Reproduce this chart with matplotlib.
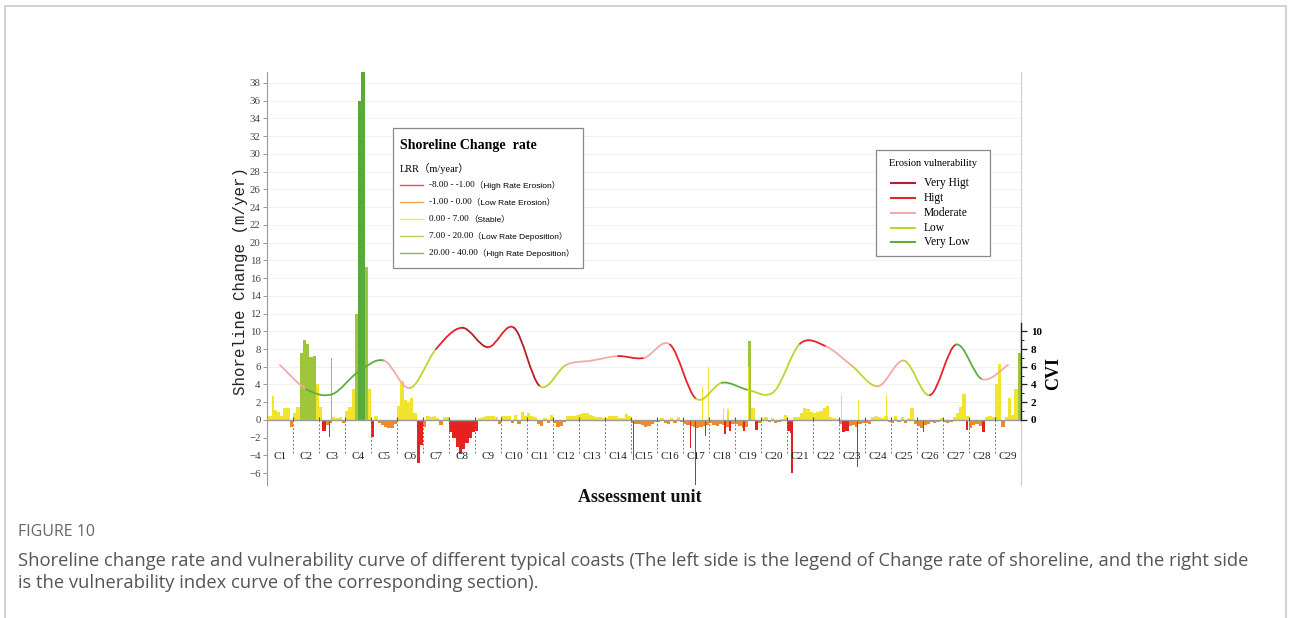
import numpy as np
import matplotlib
matplotlib.use("Agg")
import matplotlib.pyplot as plt
from matplotlib.path import Path
from matplotlib.patches import PathPatch, Rectangle
from matplotlib.lines import Line2D
from matplotlib.text import Annotation

W, H = 1290, 618
SERIF = "Liberation Serif"
plt.rcParams["font.family"] = SERIF

units = [f"C{i}" for i in range(1, 30)]
N_SUB = 8  # transect samples per assessment unit

# LRR (m/year), 8 samples per unit
lrr = [
    0.4, 0.5, 1.1, 0.9, 0.5, 1.4, 1.4, -0.8,          # C1
    0.8, 1.5, 7.5, 9.0, 8.6, 7.1, 7.2, 4.0,           # C2
    1.5, -1.2, -0.6, -0.3, 0.3, 0.2, 0.3, -0.3,       # C3
    1.0, 1.5, 3.5, 12.0, 36.0, 39.3, 17.2, 3.5,       # C4
    -1.9, 0.5, -0.3, -0.6, -0.8, -0.95, -0.9, -0.4,   # C5
    1.6, 4.4, 2.3, 2.0, 2.5, 0.8, -4.8, -2.8,         # C6
    -0.8, 0.4, 0.3, 0.4, 0.2, -0.6, 0.3, 0.3,         # C7
    -1.3, -2.0, -3.0, -3.8, -3.3, -2.6, -2.0, -1.4,   # C8
    -1.2, 0.2, 0.3, 0.5, 0.5, 0.4, 0.3, -0.4,         # C9
    0.4, 0.5, 0.4, -0.3, 0.6, -0.5, 0.9, 0.4,         # C10
    0.8, 0.5, 0.3, -0.5, -0.7, 0.2, -0.3, 0.6,        # C11
    -0.3, -0.8, -0.7, -0.2, 0.4, 0.5, 0.4, 0.6,       # C12
    0.7, 0.8, 0.8, 0.6, 0.4, 0.3, 0.3, 0.2,           # C13
    0.2, 0.4, 0.5, 0.4, 0.2, 0.2, 0.7, 0.4,           # C14
    -0.3, -0.4, -0.5, -0.6, -0.8, -0.7, -0.4, -0.2,   # C15
    -0.2, 0.2, -0.3, -0.4, 0.2, -0.3, 0.3, -0.2,      # C16
    -0.4, -0.6, -0.7, -0.8, -0.9, -0.8, -0.7, -0.6,   # C17
    -0.3, -0.6, -0.7, -0.5, -0.6, -0.8, -0.5, -0.4,   # C18
    -0.5, -0.7, -0.9, -0.8, 8.9, 1.3, -1.1, -0.3,     # C19
    0.2, 0.3, -0.2, 0.2, -0.3, -0.2, 0.1, 0.6,        # C20
    -1.2, -1.5, 0.3, 0.3, 0.8, 1.4, 1.2, 0.9,         # C21
    0.8, 0.9, 1.0, 1.3, 1.6, 0.3, 0.2, 0.1,           # C22
    -0.5, -1.4, -1.2, -0.7, -0.6, -0.8, -0.5, -0.3,   # C23
    -0.3, -0.4, 0.3, 0.4, 0.3, 0.2, 0.4, -0.2,        # C24
    -0.3, 0.5, -0.2, 0.3, -0.3, 0.2, 1.4, -0.5,       # C25
    -0.7, -0.9, -0.6, -0.4, -0.2, -0.3, -0.2, 0.2,    # C26
    -0.2, -0.3, -0.2, 0.3, 0.8, 1.5, 2.9, 0.4,        # C27
    -0.9, -0.6, -0.5, -0.7, -1.3, 0.3, 0.4, 0.3,      # C28
    4.0, 6.3, -0.8, 0.3, 2.5, 0.6, 3.5, 7.5,          # C29
]

# single extreme transects (thin spikes), position in unit coordinates
spike_pos = [0.23, 2.415, 2.47, 14.09, 16.28, 16.49, 16.76, 16.87, 16.99,
             17.56, 17.62, 17.73, 17.81, 18.35, 18.51, 20.19, 22.10, 22.70,
             22.75, 23.83, 25.25, 26.92]
spike_lrr = [2.7, -1.9, 7.0, -4.5, -3.2, -7.3, 3.7, -1.8, 6.0,
             1.3, -1.6, 1.2, -1.2, -1.2, 6.0, -6.0, 2.8, -5.3,
             2.2, 2.8, -1.3, -1.1]

# coastal vulnerability index at each unit centre
cvi = [6.2, 3.5, 2.9, 5.4, 6.7, 3.6, 8.0, 10.4, 8.2, 10.4, 3.8, 6.2, 6.7, 7.2,
       7.0, 8.5, 2.4, 4.2, 3.4, 3.2, 8.6, 8.3, 6.1, 3.8, 6.7, 2.8, 8.5, 4.6, 6.2]
# vulnerability class of the curve between consecutive units
cvi_class = ["Moderate", "Very Low", "Very Low", "Very Low", "Moderate", "Low",
             "Higt", "Very Higt", "Higt", "Very Higt", "Low", "Moderate",
             "Moderate", "Higt", "Moderate", "Higt", "Low", "Very Low", "Low",
             "Low", "Higt", "Moderate", "Low", "Moderate", "Low", "Higt",
             "Very Low", "Moderate"]

vul_names = ["Very Higt", "Higt", "Moderate", "Low", "Very Low"]
vul_colors = ["#b3202a", "#e8212b", "#f3aaa8", "#c3d22e", "#5eae3c"]
lrr_ranges = ["-8.00 - -1.00", "-1.00 - 0.00", "0.00 - 7.00", "7.00 - 20.00", "20.00 - 40.00"]
lrr_names = ["High Rate Erosion", "Low Rate Erosion", "Stable",
             "Low Rate Deposition", "High Rate Deposition"]
lrr_colors = ["#e42320", "#ef8a2b", "#f1e42c", "#9fc63b", "#58ab39"]


def lrr_color(v):
    if v < -1:
        return lrr_colors[0]
    if v < 0:
        return lrr_colors[1]
    if v < 7:
        return lrr_colors[2]
    if v < 20:
        return lrr_colors[3]
    return lrr_colors[4]


def fx(x):
    return x / W


def fy(y):
    return 1 - y / H


fig = plt.figure(figsize=(W / 100, H / 100), dpi=100)
fig.add_artist(Rectangle((fx(4.5), fy(650)), fx(1281), 644 / H, fill=False,
                         edgecolor="#d2d2d2", lw=1.4, zorder=1))

ax = fig.add_axes([fx(267), fy(485), 754 / W, 413 / H])
ax.set_xlim(0, 29)
ax.set_ylim(-7.33, 39.23)
for s in ("top", "bottom"):
    ax.spines[s].set_visible(False)
ax.spines["left"].set_color("#999999")
ax.spines["left"].set_linewidth(0.8)
ax.spines["right"].set_color("#cccccc")
ax.spines["right"].set_linewidth(0.8)
ax.set_xticks([])
ax.set_yticks(range(-6, 39, 2))
ax.tick_params(axis="y", length=3, width=0.6, color="#888888", labelsize=7.8,
               labelcolor="#444444", pad=1.5)

for v in range(2, 39, 2):
    ax.axhline(v, color="#efefef", lw=0.6, zorder=0)

# LRR bars
xb = (np.arange(len(lrr)) + 0.5) / N_SUB
ax.bar(xb, lrr, width=1 / N_SUB, color=[lrr_color(v) for v in lrr], lw=0, zorder=2)
ax.bar(spike_pos, spike_lrr, width=0.05, color=[lrr_color(v) for v in spike_lrr],
       lw=0, zorder=2)

ax.axhline(0, color="#9a9a9a", lw=1.0, zorder=3)
bounds = np.arange(1, 29)
ax.vlines(bounds, -3.7, 0, colors="#7a7a7a", linestyles=(0, (2, 2)), lw=0.7, zorder=3)
ax.vlines(bounds, 0, 0.35, colors="#555555", lw=0.8, zorder=3)
for i, lab in enumerate(units):
    ax.text(i + 0.5, -4.15, lab, ha="center", va="center", fontsize=8, color="#222222")

# CVI curve: Catmull-Rom spline through unit centres, coloured per class
cmap = dict(zip(vul_names, vul_colors))
pts = np.column_stack([np.arange(len(cvi)) + 0.5, cvi])
ext = np.vstack([pts[0], pts, pts[-1]])
for k in range(len(cvi) - 1):
    p0, p1, p2, p3 = ext[k], ext[k + 1], ext[k + 2], ext[k + 3]
    c1 = p1 + (p2 - p0) / 6
    c2 = p2 - (p3 - p1) / 6
    path = Path([p1, c1, c2, p2], [Path.MOVETO, Path.CURVE4, Path.CURVE4, Path.CURVE4])
    ax.add_patch(PathPatch(path, fill=False, edgecolor=cmap[cvi_class[k]], lw=1.3,
                           capstyle="round", zorder=4))

# CVI axis on the right, same scale
ax2 = ax.twinx()
ax2.set_ylim(ax.get_ylim())
for s in ("top", "bottom", "left"):
    ax2.spines[s].set_visible(False)
ax2.spines["right"].set_bounds(0, 10.9)
ax2.spines["right"].set_color("#222222")
ax2.spines["right"].set_linewidth(1.0)
ax2.set_yticks(range(0, 11, 2))
ax2.set_yticks(range(1, 11, 2), minor=True)
ax2.tick_params(axis="y", which="major", length=4, width=0.9, color="#222222",
                labelsize=8, pad=3)
ax2.tick_params(axis="y", which="minor", length=2.5, width=0.7, color="#222222")
for t in ax2.get_yticklabels():
    t.set_fontweight("bold")

fig.text(fx(1054), fy(373), "CVI", rotation=90, ha="center", va="center",
         fontsize=13, fontweight="bold")
fig.text(fx(241), fy(281), "Shoreline Change (m/yer)", rotation=90, ha="center",
         va="center", fontsize=11.3, family=["Liberation Mono", "Noto Sans CJK SC"],
         color="#222222")
fig.text(fx(640), fy(498), "Assessment unit", ha="center", va="center",
         fontsize=13, fontweight="bold", color="#111111")

# legend: shoreline change rate
fig.add_artist(Rectangle((fx(393), fy(268)), 190 / W, 140 / H, facecolor="white",
                         edgecolor="#888888", lw=0.9, zorder=2))
fig.text(fx(400), fy(146), "Shoreline Change  rate", fontsize=10, fontweight="bold",
         va="center", zorder=3)
fig.text(fx(400), fy(169), "LRR（m/year）", fontsize=7.5, va="center",
         family=[SERIF, "Noto Sans CJK SC"], zorder=3)
for k in range(5):
    y = 185 + 17 * k
    fig.add_artist(Line2D([fx(400), fx(423)], [fy(y), fy(y)], color=lrr_colors[k],
                          lw=1.0, alpha=0.8, zorder=3))
    t = fig.text(fx(429), fy(y), lrr_ranges[k], fontsize=6.6, va="center", zorder=3)
    ann = Annotation("（" + lrr_names[k] + "）", xy=(1, 0.5), xycoords=t,
                     xytext=(0, 0), textcoords="offset points", va="center",
                     ha="left", fontsize=6, family=["Liberation Sans", "Noto Sans CJK SC"],
                     zorder=3)
    fig.add_artist(ann)

# legend: erosion vulnerability
fig.add_artist(Rectangle((fx(876), fy(256)), 114 / W, 106 / H, facecolor="white",
                         edgecolor="#888888", lw=0.9, zorder=2))
fig.text(fx(933), fy(163), "Erosion vulnerability", fontsize=7.5, ha="center",
         va="center", zorder=3)
for k in range(5):
    y = 183.3 + 14.75 * k
    fig.add_artist(Line2D([fx(891), fx(915)], [fy(y), fy(y)], color=vul_colors[k],
                          lw=1.5, zorder=3))
    fig.text(fx(924), fy(y), vul_names[k], fontsize=8.3, va="center", zorder=3)

# caption
fig.text(fx(18), fy(532), "FIGURE 10", fontsize=11.5, color="#666666", va="center",
         family="Open Sans")
fig.text(fx(18), fy(561), "Shoreline change rate and vulnerability curve of different "
         "typical coasts (The left side is the legend of Change rate of shoreline, "
         "and the right side", fontsize=13.2, color="#555555", va="center",
         family="Open Sans")
fig.text(fx(18), fy(583), "is the vulnerability index curve of the corresponding "
         "section).", fontsize=13.2, color="#555555", va="center", family="Open Sans")

fig.savefig("out.png", dpi=100)
